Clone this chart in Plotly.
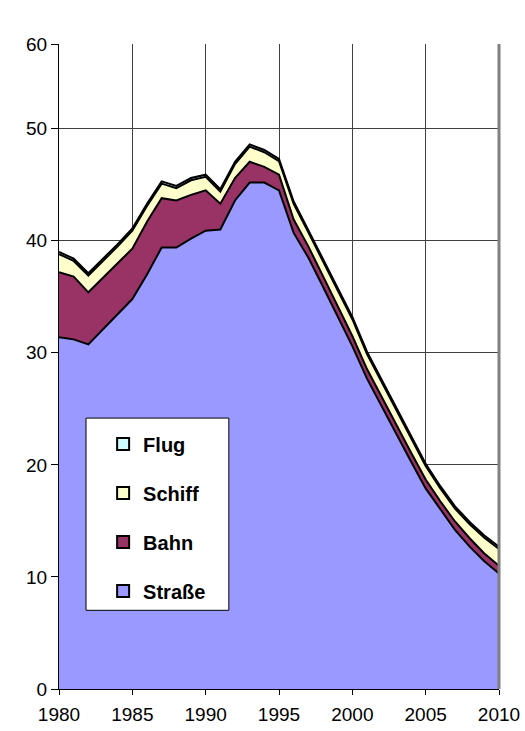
import plotly.graph_objects as go

years = list(range(1980, 2011))

strasse = [31.4, 31.2, 30.75, 32.1, 33.4, 34.8, 37.0, 39.4, 39.4, 40.2,
           40.9, 41.0, 43.6, 45.2, 45.2, 44.5, 40.7, 38.5, 35.9, 33.2,
           30.6, 27.7, 25.2, 22.7, 20.3, 17.9, 16.0, 14.2, 12.7, 11.4, 10.3]
bahn = [5.8, 5.6, 4.65, 4.6, 4.6, 4.5, 4.7, 4.4, 4.2, 3.9,
        3.6, 2.3, 2.0, 1.85, 1.4, 1.4, 1.2, 1.0, 0.95, 0.9,
        0.9, 0.85, 0.85, 0.8, 0.8, 0.8, 0.75, 0.75, 0.75, 0.7, 0.7]
schiff = [1.6, 1.4, 1.5, 1.5, 1.5, 1.6, 1.4, 1.3, 1.1, 1.3,
          1.2, 1.1, 1.25, 1.35, 1.3, 1.2, 1.4, 1.25, 1.35, 1.5,
          1.5, 1.35, 1.35, 1.4, 1.3, 1.2, 1.15, 1.15, 1.25, 1.4, 1.5]
flug = [0.2] * 31

series_names = ["Straße", "Bahn", "Schiff", "Flug"]
series_values = [strasse, bahn, schiff, flug]
series_colors = ["#9999FF", "#993366", "#FFFFCC", "#CCFFFF"]

x_tick_vals = [1980, 1985, 1990, 1995, 2000, 2005, 2010]
y_tick_vals = [0, 10, 20, 30, 40, 50, 57.56]
y_tick_text = ["0", "10", "20", "30", "40", "50", "60"]

fig = go.Figure()
for name, vals, col in zip(series_names, series_values, series_colors):
    fig.add_trace(go.Scatter(
        x=years, y=vals, name=name, stackgroup="one", mode="lines",
        line=dict(color="black", width=2), fillcolor=col, showlegend=False,
        hoverinfo="x+y+name"))

# legend entries (top to bottom: Flug, Schiff, Bahn, Straße)
for name, col in reversed(list(zip(series_names, series_colors))):
    fig.add_trace(go.Scatter(
        x=[None], y=[None], mode="markers", name=name, legendgroup=name,
        marker=dict(symbol="square", size=13, color=col,
                    line=dict(color="black", width=1))))

fig.update_layout(
    width=525, height=731,
    margin=dict(l=59, r=26, t=44, b=42, autoexpand=False),
    paper_bgcolor="white", plot_bgcolor="white",
    font=dict(family="Liberation Sans, Arial, sans-serif", size=19, color="black"),
    showlegend=True,
    legend=dict(x=0.073, y=0.41, xanchor="left", yanchor="top",
                bgcolor="rgba(0,0,0,0)", borderwidth=0,
                font=dict(size=20, color="black", weight="bold"),
                traceorder="grouped", tracegroupgap=20, indentation=12,
                itemsizing="constant"),
    shapes=[
        dict(type="rect", xref="paper", yref="paper",
             x0=0.0614, x1=0.386, y0=0.122, y1=0.42,
             fillcolor="white", line=dict(color="black", width=1), layer="above"),
        dict(type="line", xref="paper", yref="paper", x0=1, x1=1, y0=0, y1=1,
             line=dict(color="#808080", width=3), layer="above"),
    ],
)
fig.update_xaxes(range=[1980, 2010], tickvals=x_tick_vals,
                 showgrid=True, gridcolor="#404040", gridwidth=1,
                 showline=True, linecolor="black", linewidth=1,
                 ticks="outside", ticklen=5, tickcolor="black",
                 ticklabelstandoff=3, automargin=False,
                 zeroline=False, tickfont=dict(size=19))
fig.update_yaxes(range=[0, 57.56], tickvals=y_tick_vals, ticktext=y_tick_text,
                 showgrid=True, gridcolor="#404040", gridwidth=1,
                 showline=True, linecolor="black", linewidth=1,
                 ticks="outside", ticklen=7, tickcolor="black",
                 automargin=False,
                 zeroline=False, tickfont=dict(size=19))

fig.write_html("out.html",
               config={"displayModeBar": False},
               post_script="document.body.style.margin='0';"
                           "document.body.style.overflow='hidden';")
